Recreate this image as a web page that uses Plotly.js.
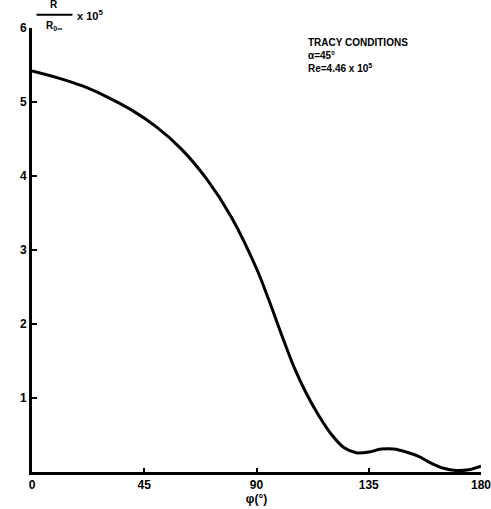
<!DOCTYPE html>
<html><head><meta charset="utf-8">
<script src="https://cdn.plot.ly/plotly-3.0.1.min.js"></script>
<style>html,body{margin:0;padding:0;background:#fff}#plot{width:491px;height:509px}</style>
</head><body><div id="plot"></div>
<script>
const phi   = [0,10,20,30,40,50,60,70,80,90,95,100,105,110,115,120,125,130,135,140,145,150,155,160,165,170,175,180];
const ratio = [5.42,5.33,5.22,5.07,4.89,4.66,4.36,3.96,3.44,2.75,2.32,1.86,1.42,1.06,0.76,0.51,0.33,0.26,0.27,0.31,0.31,0.27,0.21,0.12,0.05,0.02,0.03,0.08];
const xTicks = [0,45,90,135,180];
const xTickText = ['0','45','90','135','180'];
const yTicks = [1,2,3,4,5,6];
const yTickText = ['1','2','3','4','5','6'];
const noteLines = ['TRACY CONDITIONS','α=45°','Re=4.46 x 10<sup>5</sup>'];

const fam = 'Liberation Sans, Arial, sans-serif';
const fnt = {family:fam, color:'#000', size:12, weight:700};
const trace = {x:phi, y:ratio, mode:'lines', line:{color:'#000', width:3, shape:'spline', smoothing:1}, hoverinfo:'skip'};
const layout = {
  width:491, height:509,
  margin:{l:32, r:10, t:28, b:37},
  paper_bgcolor:'#fff', plot_bgcolor:'#fff',
  showlegend:false,
  xaxis:{range:[0,180], tickvals:xTicks, ticktext:xTickText, ticks:'inside', ticklen:4, tickwidth:2, tickcolor:'#000',
         showline:true, linecolor:'#000', linewidth:3, showgrid:false, zeroline:false, tickfont:fnt,
         ticklabeloverflow:'allow', title:{text:'φ(°)', font:fnt, standoff:2}},
  yaxis:{range:[0,6], tickvals:yTicks, ticktext:yTickText, ticks:'inside', ticklen:5, tickwidth:2, tickcolor:'#000',
         showline:true, linecolor:'#000', linewidth:3, showgrid:false, zeroline:false, tickfont:fnt,
         ticklabeloverflow:'allow', ticklabelstandoff:0},
  annotations:[
    {xref:'paper', yref:'paper', x:0.61, y:0.985, xanchor:'left', yanchor:'top', align:'left', showarrow:false,
     text:noteLines.join('<br>'), font:{family:fam, size:10, color:'#000', weight:700}},
    {xref:'paper', yref:'paper', x:0.05, y:1.053, xanchor:'center', yanchor:'middle', showarrow:false,
     text:'R', font:{family:fam, size:10, color:'#000', weight:700}},
    {xref:'paper', yref:'paper', x:0.05, y:1.005, xanchor:'center', yanchor:'middle', showarrow:false,
     text:'R<sub>0∞</sub>', font:{family:fam, size:10, color:'#000', weight:700}},
    {xref:'paper', yref:'paper', x:0.095, y:1.03, xanchor:'left', yanchor:'middle', showarrow:false,
     text:'x 10<sup>5</sup>', font:{family:fam, size:11, color:'#000', weight:700}}
  ],
  shapes:[
    {type:'line', xref:'paper', yref:'paper', x0:0.01, x1:0.09, y0:1.03, y1:1.03, line:{color:'#000', width:2}}
  ]
};
Plotly.newPlot('plot', [trace], layout, {displayModeBar:false, staticPlot:true});
</script></body></html>
